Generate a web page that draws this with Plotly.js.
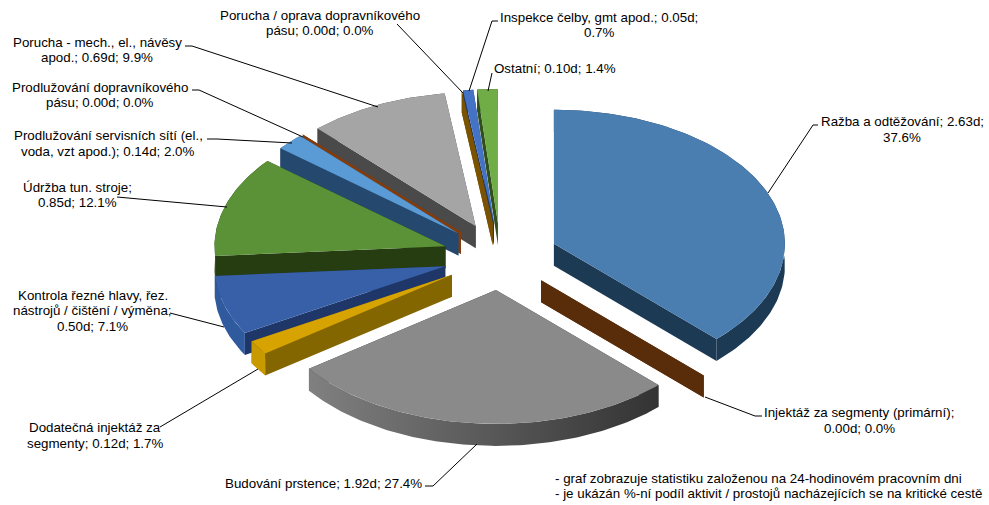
<!DOCTYPE html>
<html>
<head>
<meta charset="utf-8">
<script src="https://cdn.plot.ly/plotly-3.0.1.min.js"></script>
<style>html,body{margin:0;padding:0;background:#fff}#chart{width:989px;height:505px}</style>
</head>
<body>
<div id="chart"></div>
<script>
// Data
const categories = ["Ražba a odtěžování","Injektáž za segmenty (primární)","Budování prstence","Dodatečná injektáž za segmenty","Kontrola řezné hlavy, řez. nástrojů / čištění / výměna","Údržba tun. stroje","Prodlužování servisních sítí (el., voda, vzt apod.)","Prodlužování dopravníkového pásu","Porucha - mech., el., návěsy apod.","Porucha / oprava dopravníkového pásu","Inspekce čelby, gmt apod.","Ostatní"];
const days = [2.63,0.00,1.92,0.12,0.50,0.85,0.14,0.00,0.69,0.00,0.05,0.10];
const labelTexts = [
 "Ražba a odtěžování; 2.63d;<br>37.6%",
 "Injektáž za segmenty (primární);<br>0.00d; 0.0%",
 "Budování prstence; 1.92d; 27.4%",
 "Dodatečná injektáž za<br>segmenty; 0.12d; 1.7%",
 "Kontrola řezné hlavy, řez.<br>nástrojů / čištění / výměna;<br>0.50d; 7.1%",
 "Údržba tun. stroje;<br>0.85d; 12.1%",
 "Prodlužování servisních sítí (el.,<br>voda, vzt apod.); 0.14d; 2.0%",
 "Prodlužování dopravníkového<br>pásu; 0.00d; 0.0%",
 "Porucha - mech., el., návěsy<br>apod.; 0.69d; 9.9%",
 "Porucha / oprava dopravníkového<br>pásu; 0.00d; 0.0%",
 "Inspekce čelby, gmt apod.; 0.05d;<br>0.7%",
 "Ostatní; 0.10d; 1.4%"
];
const noteText = "- graf zobrazuje statistiku založenou na 24-hodinovém pracovním dni<br>- je ukázán %-ní podíl aktivit / prostojů nacházejících se na kritické cestě";

// Styles
const topColors  = ["#4a7db0","#5a2d0a","#8a8a8a","#d6a300","#3760a8","#5b9137","#5b9bd5","#843c0c","#a5a5a5","#7a5200","#4472c4","#70ad47"];
const sideColors = ["#1d3a55","#5a2d0a","#3a3a3a","#846600","#1f3768","#263d12","#24486e","#843c0c","#4a4a4a","#7a5200","#1f3864","#2f4f1c"];
const arcStart   = ["#1d3a55","#5a2d0a","#808080","#c89a00","#2f5a9e","#263d12","#24486e","#843c0c","#4a4a4a","#7a5200","#1f3864","#2f4f1c"];
const arcEnd     = ["#1d3a55","#5a2d0a","#333333","#c89a00","#2f5a9e","#263d12","#24486e","#843c0c","#4a4a4a","#7a5200","#1f3864","#2f4f1c"];
const drawOrder  = [11,10,9,8,7,6,5,4,0,1,3,2];

// Geometry: x axis unit = pie radius across, y axis unit = pie radius in depth
const W = 989, H = 505, cxPx = 500.5, cyPx = 256.5, rxPx = 231, ryPx = 134;
const explosion = 0.25, thickness = 22 / ryPx;
const total = days.reduce((a,b)=>a+b,0);

function dir(a){ return [Math.sin(a), Math.cos(a)]; }
let cum = 0;
const traces = [];
const slices = days.map(v=>{ const a1 = cum/total*2*Math.PI; cum += v; return [a1, cum/total*2*Math.PI]; });

function poly(xs, ys, color, grad){
  const t = {type:"scatter", mode:"lines", x:xs, y:ys, fill:"toself", line:{width:0}, hoverinfo:"skip", showlegend:false};
  if(grad) t.fillgradient = {type:"horizontal", colorscale:[[0,grad[0]],[1,grad[1]]]};
  else t.fillcolor = color;
  return t;
}
drawOrder.forEach(i=>{
  const [a1,a2] = slices[i];
  const mid = (a1+a2)/2, m = dir(mid);
  const ox = explosion*m[0], oy = explosion*m[1];
  // radial walls
  [a1,a2].forEach(a=>{
    const d = dir(a);
    const ex = ox+d[0], ey = oy+d[1];
    traces.push(poly([ox,ex,ex,ox,ox],[oy,ey,ey-thickness,oy-thickness,oy],sideColors[i]));
  });
  if(a2>a1){
    const n = Math.max(2,Math.ceil((a2-a1)/(Math.PI/180)));
    const ax=[], ay=[];
    for(let k=0;k<=n;k++){ const d = dir(a1+(a2-a1)*k/n); ax.push(ox+d[0]); ay.push(oy+d[1]); }
    // outer curved wall
    const wx = ax.concat(ax.slice().reverse(),[ax[0]]);
    const wy = ay.concat(ay.slice().reverse().map(v=>v-thickness),[ay[0]]);
    traces.push(arcStart[i]===arcEnd[i] ? poly(wx,wy,arcStart[i]) : poly(wx,wy,null,[arcStart[i],arcEnd[i]]));
    // top face
    traces.push(poly([ox].concat(ax,[ox]),[oy].concat(ay,[oy]),topColors[i]));
  }
});

// Label and leader placement in pixels of the picture
const lineStep = 15.5;
const labelPos = [[902,129.5],[859,420.5],[323,483],[95,435.5],[92.5,310.5],[77,195],[108,143.5],[100,95],[97,50],[320,23],[599,25],[554.5,68]];
const leaders = [
 [[818,125],[813,125],[768,193]],
 [[762,416],[755,416],[705,397]],
 [[425,486],[433,486],[477,444]],
 [[160,427],[258,369]],
 [[170,313],[224,327]],
 [[117,197],[227,207]],
 [[207,139],[217,139],[292,143]],
 [[192,90],[199,90],[303,137]],
 [[185,46],[192,46],[378,107]],
 [[397,24],[463,93]],
 [[498,21],[492,21],[469,91]],
 [[492,73],[488,91]]
];
const px = v=>v/W, py = v=>1-v/H;
const font = {family:"Liberation Sans, Arial, sans-serif", size:13.33, color:"#000"};
const annotations = [];
function addLines(text, x, yc, anchor){
  const lines = text.split("<br>");
  lines.forEach((s,k)=>{
    annotations.push({xref:"paper",yref:"paper",x:px(x),y:py(yc+(k-(lines.length-1)/2)*lineStep),text:s,showarrow:false,xanchor:anchor,yanchor:"middle",align:anchor,font:font,borderpad:0});
  });
}
labelTexts.forEach((t,i)=>addLines(t,labelPos[i][0],labelPos[i][1],"center"));
addLines(noteText,554,486,"left");
const shapes = [];
leaders.forEach(l=>{
  for(let k=0;k<l.length-1;k++) shapes.push({type:"line",xref:"paper",yref:"paper",x0:px(l[k][0]),y0:py(l[k][1]),x1:px(l[k+1][0]),y1:py(l[k+1][1]),line:{color:"#000",width:1}});
});

const layout = {
  width:W, height:H, margin:{l:0,r:0,t:0,b:0}, paper_bgcolor:"#fff", plot_bgcolor:"#fff", showlegend:false,
  xaxis:{visible:false, fixedrange:true, range:[-cxPx/rxPx,(W-cxPx)/rxPx]},
  yaxis:{visible:false, fixedrange:true, range:[-(H-cyPx)/ryPx,cyPx/ryPx]},
  annotations:annotations, shapes:shapes
};
Plotly.newPlot("chart",traces,layout,{displayModeBar:false,staticPlot:true});
</script>
</body>
</html>
